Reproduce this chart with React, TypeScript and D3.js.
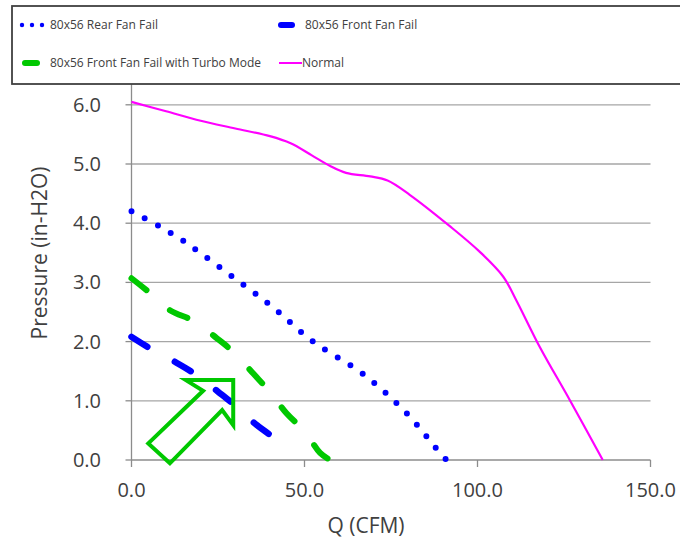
import React from "react";
import * as d3 from "d3";

const W = 680;
const H = 541;

// Q (CFM) vs Pressure (in-H2O)
const rearFanFailQ = [0, 8, 15, 25.6, 40, 52.5, 67, 79.5, 88, 91];
const rearFanFailP = [4.2, 3.95, 3.7, 3.25, 2.62, 2.0, 1.45, 0.79, 0.2, 0];

const frontFanFailQ = [0, 5.8, 12.5, 18.7, 25.1, 30.4, 36.2, 43.2];
const frontFanFailP = [2.08, 1.87, 1.66, 1.44, 1.15, 0.9, 0.59, 0.3];

const turboQ = [0, 5.8, 11.1, 18.3, 24.6, 29.9, 35.2, 40, 44.8, 50.1, 54.5, 57.4];
const turboP = [3.07, 2.8, 2.53, 2.34, 2.06, 1.8, 1.46, 1.15, 0.79, 0.48, 0.12, 0];

const normalQ = [0, 10, 20, 30, 40, 46, 52, 57.3, 62, 69, 74, 80.4, 92, 100.6, 107.4, 111.2, 118, 126.7, 136.2];
const normalP = [6.05, 5.89, 5.73, 5.6, 5.47, 5.35, 5.15, 4.97, 4.85, 4.79, 4.72, 4.48, 3.95, 3.52, 3.1, 2.7, 1.91, 1.01, 0];

// annotation arrow outline in data units (Q, P)
const arrowQ = [15.7, 29.4, 29.4, 26.2, 11.1, 4.85, 20.7];
const arrowP = [1.35, 1.35, 0.59, 0.845, -0.056, 0.28, 1.17];

const xTicks = [0, 50, 100, 150];
const yTicks = [0, 1, 2, 3, 4, 5, 6];

const seriesNames = [
  "80x56 Rear Fan Fail",
  "80x56 Front Fan Fail",
  "80x56 Front Fan Fail with Turbo Mode",
  "Normal",
];

const BLUE = "#0000ff";
const GREEN = "#00c800";
const MAGENTA = "#ff00ff";
const GRID = "#a6a6a6";
const AXIS = "#8c8c8c";
const TEXT = "#404040";
const FONT = "'Open Sans', 'DejaVu Sans', sans-serif";

const zip = (qs: number[], ps: number[]) => qs.map((q, i) => [q, ps[i]] as [number, number]);

export default function App() {
  const x = d3.scaleLinear().domain([0, 150]).range([131.5, 650.5]);
  const y = d3.scaleLinear().domain([0, 7]).range([460, 45.6]);

  const line = d3
    .line<[number, number]>()
    .x((d) => x(d[0]))
    .y((d) => y(d[1]))
    .curve(d3.curveCatmullRom.alpha(0.5));

  const arrowLine = d3
    .line<[number, number]>()
    .x((d) => x(d[0]))
    .y((d) => y(d[1]))
    .curve(d3.curveLinearClosed);

  const fmt = d3.format(".1f");

  return (
    <svg
      width={W}
      height={H}
      style={{ position: "fixed", left: 0, top: 0, background: "#fff" }}
      fontFamily={FONT}
    >
      <rect x={0} y={0} width={W} height={H} fill="#fff" />
      {/* gridlines */}
      {yTicks.map((t) => (
        <line key={"g" + t} x1={x(0)} x2={x(150)} y1={y(t)} y2={y(t)} stroke={t === 0 ? AXIS : GRID} strokeWidth={1.3} />
      ))}
      {/* y axis */}
      <line x1={x(0)} x2={x(0)} y1={y(0)} y2={y(7)} stroke={AXIS} strokeWidth={1.3} />
      {yTicks.map((t) => (
        <g key={"yt" + t}>
          <line x1={x(0) - 6} x2={x(0)} y1={y(t)} y2={y(t)} stroke={AXIS} strokeWidth={1.3} />
          <text x={101} y={y(t)} dy="0.35em" textAnchor="end" fontSize={20} fill={TEXT}>
            {fmt(t)}
          </text>
        </g>
      ))}
      {xTicks.map((t) => (
        <g key={"xt" + t}>
          <line x1={x(t)} x2={x(t)} y1={y(0)} y2={y(0) + 7} stroke={AXIS} strokeWidth={1.3} />
          <text x={x(t)} y={490} dy="0.35em" textAnchor="middle" fontSize={20} fill={TEXT}>
            {fmt(t)}
          </text>
        </g>
      ))}
      <text x={366} y={526} dy="0.35em" textAnchor="middle" fontSize={21} fill={TEXT}>
        Q (CFM)
      </text>
      <text
        transform={`translate(40,253) rotate(-90)`}
        dy="0.35em"
        textAnchor="middle"
        fontSize={21}
        fill={TEXT}
      >
        Pressure (in-H2O)
      </text>

      {/* series */}
      <path d={line(zip(normalQ, normalP)) || ""} fill="none" stroke={MAGENTA} strokeWidth={2.2} />
      <path
        d={line(zip(rearFanFailQ, rearFanFailP)) || ""}
        fill="none"
        stroke={BLUE}
        strokeWidth={6}
        strokeLinecap="round"
        strokeDasharray="0 14.9"
      />
      <path
        d={line(zip(turboQ, turboP)) || ""}
        fill="none"
        stroke={GREEN}
        strokeWidth={6}
        strokeLinecap="round"
        strokeDasharray="19 31"
      />
      <path
        d={line(zip(frontFanFailQ, frontFanFailP)) || ""}
        fill="none"
        stroke={BLUE}
        strokeWidth={6.5}
        strokeLinecap="round"
        strokeDasharray="18.5 31.5"
      />

      {/* arrow annotation */}
      <path d={arrowLine(zip(arrowQ, arrowP)) || ""} fill="none" stroke={GREEN} strokeWidth={4} strokeLinejoin="miter" />

      {/* legend */}
      <rect x={12} y={6} width={690} height={78} fill="#fff" stroke="#404040" strokeWidth={1.8} />
      <g fontSize={12} fill={TEXT}>
        {[22, 32, 42].map((cx) => (
          <circle key={cx} cx={cx} cy={25} r={2.2} fill={BLUE} />
        ))}
        <text x={50} y={25} dy="0.35em">{seriesNames[0]}</text>
        <line x1={281} x2={292} y1={25} y2={25} stroke={BLUE} strokeWidth={6} strokeLinecap="round" />
        <text x={305} y={25} dy="0.35em">{seriesNames[1]}</text>
        <line x1={25} x2={37} y1={63} y2={63} stroke={GREEN} strokeWidth={6} strokeLinecap="round" />
        <text x={50} y={63} dy="0.35em">{seriesNames[2]}</text>
        <line x1={279} x2={302} y1={63} y2={63} stroke={MAGENTA} strokeWidth={2} />
        <text x={302} y={63} dy="0.35em">{seriesNames[3]}</text>
      </g>
    </svg>
  );
}
